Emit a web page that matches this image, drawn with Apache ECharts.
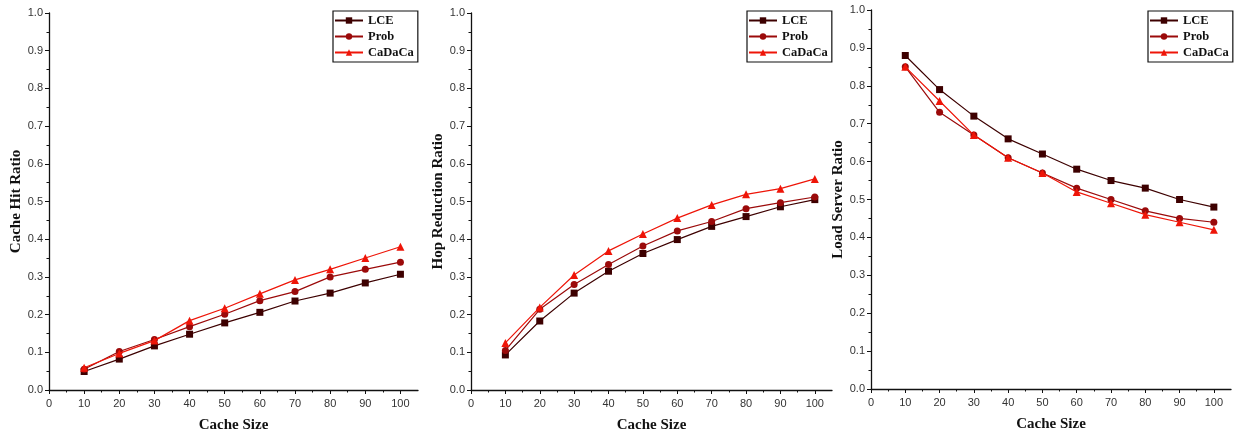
<!DOCTYPE html>
<html><head><meta charset="utf-8">
<script src="https://cdn.jsdelivr.net/npm/echarts@6/dist/echarts.min.js"></script>
<style>html,body{margin:0;padding:0;background:#fff}#c{width:1248px;height:438px}</style>
</head><body><div id="c"></div>
<script>
const cacheSizes = [10, 20, 30, 40, 50, 60, 70, 80, 90, 100];
const seriesNames = ['LCE', 'Prob', 'CaDaCa'];
const xTickLabels = [0, 10, 20, 30, 40, 50, 60, 70, 80, 90, 100];
const yTitles = ['Cache Hit Ratio', 'Hop Reduction Ratio', 'Load Server Ratio'];
const xTitle = 'Cache Size';

const hitLCE    = [0.049, 0.082, 0.117, 0.148, 0.178, 0.206, 0.236, 0.257, 0.284, 0.307];
const hitProb   = [0.055, 0.102, 0.134, 0.168, 0.201, 0.237, 0.261, 0.300, 0.320, 0.339];
const hitCaDaCa = [0.059, 0.097, 0.131, 0.184, 0.217, 0.255, 0.292, 0.320, 0.350, 0.380];

const hopLCE    = [0.093, 0.183, 0.257, 0.315, 0.362, 0.399, 0.434, 0.460, 0.486, 0.505];
const hopProb   = [0.105, 0.214, 0.280, 0.333, 0.382, 0.422, 0.447, 0.481, 0.497, 0.512];
const hopCaDaCa = [0.125, 0.219, 0.305, 0.369, 0.414, 0.456, 0.491, 0.519, 0.534, 0.560];

const loadLCE    = [0.88, 0.79, 0.72, 0.66, 0.62, 0.58, 0.55, 0.53, 0.50, 0.48];
const loadProb   = [0.85, 0.73, 0.67, 0.61, 0.57, 0.53, 0.50, 0.47, 0.45, 0.44];
const loadCaDaCa = [0.85, 0.76, 0.67, 0.61, 0.57, 0.52, 0.49, 0.46, 0.44, 0.42];

const panels = [
  [hitLCE, hitProb, hitCaDaCa],
  [hopLCE, hopProb, hopCaDaCa],
  [loadLCE, loadProb, loadCaDaCa]
];

const colors = ['#3d0000', '#9b0a0a', '#ee1508'];
const symbols = ['rect', 'circle', 'triangle'];
const symbolSizes = [7, 7, 8];

const grids = [
  {left: 49, right: 830, top: 13, bottom: 48},
  {left: 471, right: 416, top: 13, bottom: 47},
  {left: 871, right: 17, top: 10, bottom: 49}
];
const legendPos = [{left: 333, top: 11}, {left: 747, top: 11}, {left: 1148, top: 11}];
const yNameGaps = [24, 25, 24];

const serif = '"Liberation Serif", "Times New Roman", serif';
const sans = '"Liberation Sans", Arial, sans-serif';

const xAxes = [], yAxes = [], series = [], legends = [];
grids.forEach((g, i) => {
  xAxes.push({
    type: 'value', gridIndex: i, min: 0, max: 105, interval: 10,
    name: xTitle, nameLocation: 'middle', nameGap: 28,
    nameTextStyle: {fontFamily: serif, fontWeight: 'bold', fontSize: 15, color: '#111'},
    axisLine: {show: true, onZero: false, lineStyle: {color: '#111', width: 1.3}},
    axisTick: {show: true, inside: false, length: 4, customValues: xTickLabels, lineStyle: {color: '#111'}},
    minorTick: {show: true, splitNumber: 2, length: 2.5, lineStyle: {color: '#111'}},
    axisLabel: {customValues: xTickLabels, fontFamily: sans, fontSize: 11, color: '#333', margin: 8},
    splitLine: {show: false}
  });
  yAxes.push({
    type: 'value', gridIndex: i, min: 0, max: 1, interval: 0.1,
    name: yTitles[i], nameLocation: 'middle', nameGap: yNameGaps[i],
    nameTextStyle: {fontFamily: serif, fontWeight: 'bold', fontSize: 15, color: '#111'},
    axisLine: {show: true, lineStyle: {color: '#111', width: 1.3}},
    axisTick: {show: true, inside: false, length: 4, lineStyle: {color: '#111'}},
    minorTick: {show: true, splitNumber: 2, length: 2.5, lineStyle: {color: '#111'}},
    axisLabel: {fontFamily: sans, fontSize: 11, color: '#333', margin: 6, formatter: v => v.toFixed(1)},
    splitLine: {show: false}
  });
  panels[i].forEach((vals, k) => {
    series.push({
      type: 'line', name: seriesNames[k], xAxisIndex: i, yAxisIndex: i,
      data: cacheSizes.map((x, j) => [x, vals[j]]),
      symbol: symbols[k], symbolSize: symbolSizes[k], showSymbol: true,
      lineStyle: {color: colors[k], width: 1.2},
      itemStyle: {color: colors[k]},
      z: 3 + k, animation: false
    });
  });
  legends.push({
    orient: 'vertical', left: legendPos[i].left, top: legendPos[i].top,
    data: seriesNames, itemWidth: 28, itemHeight: 8, itemGap: 3,
    padding: [3, 4, 3, 1], borderColor: '#111', borderWidth: 1.2,
    textStyle: {fontFamily: serif, fontWeight: 'bold', fontSize: 12.5, color: '#111'},
    selectedMode: false
  });
});

const chart = echarts.init(document.getElementById('c'), null, {renderer: 'canvas'});
chart.setOption({
  backgroundColor: '#fff', animation: false,
  grid: grids, xAxis: xAxes, yAxis: yAxes, series: series, legend: legends
});
</script></body></html>
